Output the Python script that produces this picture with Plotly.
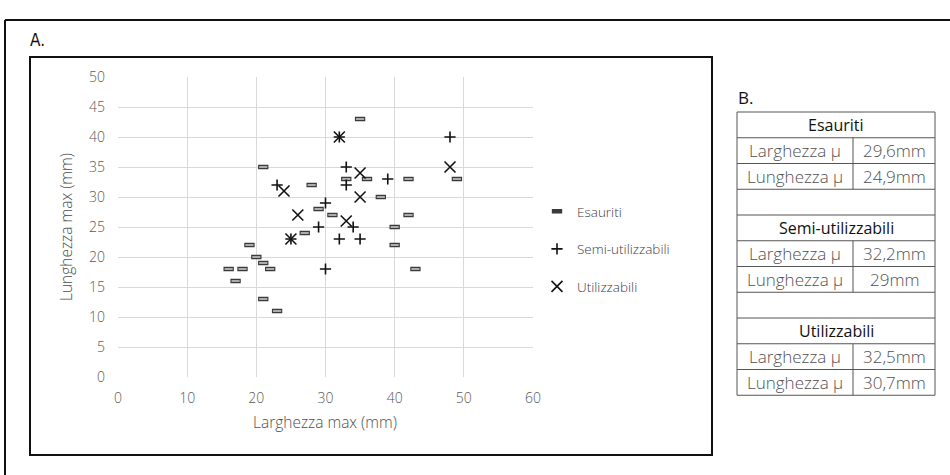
import plotly.graph_objects as go

W, H = 950, 475

# Scatter data: (larghezza, lunghezza) in mm for each class
esauriti_x = [21, 28, 29, 27, 19, 20, 21, 16, 18, 22, 17, 21, 23, 35, 33, 36, 42, 49, 38, 31, 42, 40, 40, 43]
esauriti_y = [35, 32, 28, 24, 22, 20, 19, 18, 18, 18, 16, 13, 11, 43, 33, 33, 33, 33, 30, 27, 27, 25, 22, 18]
semi_x = [23, 29, 25, 32, 48, 33, 33, 39, 30, 34, 32, 35, 30]
semi_y = [32, 25, 23, 40, 40, 35, 32, 33, 29, 25, 23, 23, 18]
util_x = [24, 26, 25, 32, 35, 48, 35, 33]
util_y = [31, 27, 23, 40, 34, 35, 30, 26]

x_ticks = [0, 10, 20, 30, 40, 50, 60]
y_ticks = [0, 5, 10, 15, 20, 25, 30, 35, 40, 45, 50]

# Summary table
groups = ["Esauriti", "Semi-utilizzabili", "Utilizzabili"]
stat_labels = ["Larghezza μ", "Lunghezza μ"]
larg_mean = ["29,6mm", "32,2mm", "32,5mm"]
lung_mean = ["24,9mm", "29mm", "30,7mm"]

FONT = "Open Sans"
TICK_FONT = dict(family=FONT, size=14, color="#595959", weight=300)


def fx(p):
    return p / W


def fy(p):
    return 1 - p / H


fig = go.Figure()

fig.add_trace(go.Scatter(
    x=esauriti_x, y=esauriti_y, mode="markers", name="Esauriti", legendgroup="e",
    marker=dict(symbol="line-ew", size=7.4, color="#3a3a3a",
                line=dict(width=4.5, color="#3a3a3a")),
))
fig.add_trace(go.Scatter(
    x=esauriti_x, y=esauriti_y, mode="markers", name="Esauriti", legendgroup="e",
    showlegend=False, hoverinfo="skip",
    marker=dict(symbol="line-ew", size=5.8, color="#ababab",
                line=dict(width=2, color="#ababab")),
))
fig.add_trace(go.Scatter(
    x=semi_x, y=semi_y, mode="markers", name="Semi-utilizzabili", legendgroup="s",
    marker=dict(symbol="cross-thin", size=8, color="#111111",
                line=dict(width=1.6, color="#111111")),
))
fig.add_trace(go.Scatter(
    x=util_x, y=util_y, mode="markers", name="Utilizzabili", legendgroup="u",
    marker=dict(symbol="x-thin", size=11, color="#111111",
                line=dict(width=1.6, color="#111111")),
))

shapes = []
annotations = []

# Outer frame (top and left edges visible) and chart frame
shapes.append(dict(type="line", xref="paper", yref="paper", x0=fx(5), x1=fx(950), y0=fy(20), y1=fy(20),
                   line=dict(color="#111111", width=2)))
shapes.append(dict(type="line", xref="paper", yref="paper", x0=fx(5), x1=fx(5), y0=fy(20), y1=fy(475),
                   line=dict(color="#111111", width=2)))
shapes.append(dict(type="rect", xref="paper", yref="paper", x0=fx(30), x1=fx(712), y0=fy(57), y1=fy(455),
                   line=dict(color="#111111", width=2)))

annotations.append(dict(text="A.", x=fx(28), y=fy(40), xref="paper", yref="paper", showarrow=False,
                        xanchor="left", yanchor="middle",
                        font=dict(family="DejaVu Sans Condensed", size=17, color="#111111")))
annotations.append(dict(text="B.", x=fx(736), y=fy(97), xref="paper", yref="paper", showarrow=False,
                        xanchor="left", yanchor="middle",
                        font=dict(family=FONT, size=17, color="#111111")))

# Axis titles
annotations.append(dict(text="Larghezza max (mm)", x=fx(325), y=fy(422), xref="paper", yref="paper",
                        showarrow=False, xanchor="center", yanchor="middle",
                        font=dict(family=FONT, size=15.5, color="#4d4d4d", weight=300)))
annotations.append(dict(text="Lunghezza max (mm)", x=fx(66), y=fy(227), xref="paper", yref="paper",
                        showarrow=False, xanchor="center", yanchor="middle", textangle=-90,
                        font=dict(family=FONT, size=15.5, color="#4d4d4d", weight=300)))

# Table geometry
t_left, t_right, t_mid = 737, 935, 853
t_top, row_h = 112, 25.75
n_rows = 11
line_col = "#555555"

shapes.append(dict(type="rect", xref="paper", yref="paper", x0=fx(t_left), x1=fx(t_right),
                   y0=fy(t_top), y1=fy(t_top + n_rows * row_h), line=dict(color=line_col, width=1)))
for i in range(1, n_rows):
    yy = t_top + i * row_h
    shapes.append(dict(type="line", xref="paper", yref="paper", x0=fx(t_left), x1=fx(t_right),
                       y0=fy(yy), y1=fy(yy), line=dict(color=line_col, width=1)))

for g, name in enumerate(groups):
    base = g * 4
    hy = t_top + (base + 0.5) * row_h
    annotations.append(dict(text=name, x=fx((t_left + t_right) / 2), y=fy(hy), xref="paper", yref="paper",
                            showarrow=False, xanchor="center", yanchor="middle",
                            font=dict(family=FONT, size=16, color="#111111")))
    # column divider for the two value rows
    shapes.append(dict(type="line", xref="paper", yref="paper", x0=fx(t_mid), x1=fx(t_mid),
                       y0=fy(t_top + (base + 1) * row_h), y1=fy(t_top + (base + 3) * row_h),
                       line=dict(color=line_col, width=1)))
    for r, (lab, val) in enumerate(zip(stat_labels, [larg_mean[g], lung_mean[g]])):
        ry = t_top + (base + 1 + r + 0.5) * row_h
        annotations.append(dict(text=lab, x=fx((t_left + t_mid) / 2), y=fy(ry), xref="paper", yref="paper",
                                showarrow=False, xanchor="center", yanchor="middle",
                                font=dict(family=FONT, size=17, color="#505050", weight=300)))
        annotations.append(dict(text=val, x=fx((t_mid + t_right) / 2), y=fy(ry), xref="paper", yref="paper",
                                showarrow=False, xanchor="center", yanchor="middle",
                                font=dict(family=FONT, size=17, color="#505050", weight=300)))

fig.update_layout(
    width=W, height=H,
    margin=dict(l=0, r=0, t=0, b=0),
    paper_bgcolor="white", plot_bgcolor="white",
    xaxis=dict(domain=[fx(118), fx(533)], range=[0, 60], tickvals=x_ticks, showgrid=True,
               gridcolor="#d9d9d9", gridwidth=1, zeroline=False, showline=False, ticks="",
               tickfont=TICK_FONT, ticklabelstandoff=11, automargin=False, fixedrange=True),
    yaxis=dict(domain=[fy(377), fy(77)], range=[0, 50], tickvals=y_ticks, showgrid=True,
               gridcolor="#d9d9d9", gridwidth=1, zeroline=False, showline=False, ticks="",
               tickfont=TICK_FONT, ticklabelstandoff=12, automargin=False, fixedrange=True),
    legend=dict(x=fx(537), y=fy(196), xanchor="left", yanchor="top", traceorder="grouped",
                tracegroupgap=17, bgcolor="rgba(0,0,0,0)",
                font=dict(family=FONT, size=13.5, color="#404040", weight=300)),
    shapes=shapes,
    annotations=annotations,
    showlegend=True,
)

fig.write_html("out.html")
